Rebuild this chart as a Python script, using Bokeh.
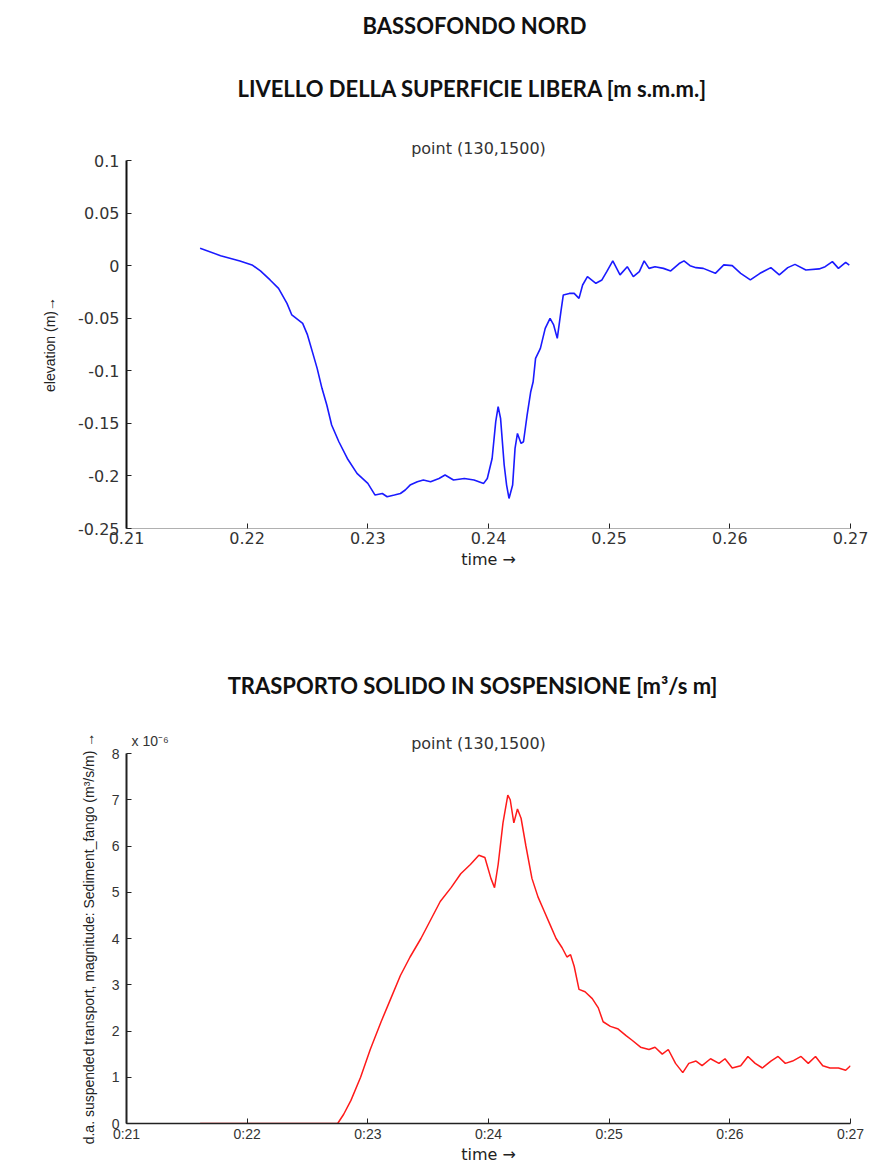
from bokeh.plotting import figure
from bokeh.models import Label, FixedTicker, Range1d
from bokeh.layouts import column
from bokeh.embed import file_html
from bokeh.resources import INLINE

# ---------------- texts ----------------
page_title = "BASSOFONDO NORD"
title_top = "LIVELLO DELLA SUPERFICIE LIBERA [m s.m.m.]"
title_bottom = "TRASPORTO SOLIDO IN SOSPENSIONE [m³/s m]"
subtitle = "point (130,1500)"
x_axis_title = "time →"
y_title_top = "elevation (m)→"
y_title_bottom = "d.a. suspended transport, magnitude: Sediment_fango (m³/s/m) →"
exponent_text = "x 10⁻⁶"

# ---------------- data: water level ----------------
elev_time = [0.2161, 0.2178, 0.2194, 0.2204, 0.2211, 0.2219, 0.2226, 0.2233, 0.2237,
             0.2246, 0.2250, 0.2254, 0.2258, 0.2262, 0.2266, 0.2270, 0.2276, 0.2283,
             0.2291, 0.2300, 0.2306, 0.2312, 0.2316, 0.2322, 0.2327, 0.2331, 0.2335,
             0.2341, 0.2346, 0.2352, 0.2359, 0.2364, 0.2371, 0.2380, 0.2388, 0.2396,
             0.2399, 0.2403, 0.2406, 0.2408, 0.2410, 0.2413, 0.2415, 0.2417, 0.2420,
             0.2422, 0.2424, 0.2427, 0.2429, 0.2432, 0.2435, 0.2437, 0.2439, 0.2443,
             0.2447, 0.2451, 0.2454, 0.2457, 0.2460, 0.2462, 0.2467, 0.2471, 0.2475,
             0.2478, 0.2482, 0.2489, 0.2494, 0.2498, 0.2503, 0.2509, 0.2515, 0.2520,
             0.2525, 0.2529, 0.2533, 0.2538, 0.2545, 0.2551, 0.2558, 0.2562, 0.2567,
             0.2572, 0.2578, 0.2588, 0.2595, 0.2602, 0.2609, 0.2617, 0.2625, 0.2634,
             0.2641, 0.2648, 0.2654, 0.2663, 0.2674, 0.2679, 0.2685, 0.2690, 0.2696,
             0.2699]
elev_m = [0.0165, 0.0095, 0.0045, 0.0007, -0.0050, -0.0136, -0.0216, -0.0359, -0.0469,
          -0.0549, -0.0659, -0.0818, -0.0977, -0.1167, -0.1325, -0.1516, -0.1675, -0.1834,
          -0.1976, -0.2071, -0.2182, -0.2167, -0.2198, -0.2182, -0.2167, -0.2134, -0.2087,
          -0.2055, -0.2039, -0.2055, -0.2024, -0.1991, -0.2039, -0.2024, -0.2039, -0.2071,
          -0.2024, -0.1834, -0.1484, -0.1342, -0.1453, -0.1896, -0.2087, -0.2214, -0.2087,
          -0.1738, -0.1596, -0.1691, -0.1675, -0.1421, -0.1199, -0.1104, -0.0882, -0.0787,
          -0.0597, -0.0501, -0.0564, -0.0692, -0.0438, -0.0279, -0.0264, -0.0264, -0.0311,
          -0.0184, -0.0105, -0.0168, -0.0136, -0.0057, 0.0045, -0.0088, -0.0010, -0.0105,
          -0.0057, 0.0045, -0.0026, -0.0010, -0.0026, -0.0050, 0.0020, 0.0045, 0.0000,
          -0.0019, -0.0026, -0.0073, 0.0007, 0.0000, -0.0073, -0.0136, -0.0073, -0.0019,
          -0.0088, -0.0019, 0.0012, -0.0041, -0.0031, -0.0010, 0.0038, -0.0026, 0.0031,
          0.0005]

# ---------------- data: suspended transport (x 1e-6 m3/s/m) ----------------
sed_time = [0.2161, 0.2275, 0.2280, 0.2286, 0.2294, 0.2302, 0.2311, 0.2319, 0.2327,
            0.2335, 0.2344, 0.2352, 0.2360, 0.2369, 0.2377, 0.2385, 0.2392, 0.2397,
            0.2402, 0.2405, 0.2408, 0.2412, 0.2416, 0.2418, 0.2421, 0.2424, 0.2427,
            0.2431, 0.2436, 0.2441, 0.2446, 0.2451, 0.2456, 0.2461, 0.2465, 0.2468,
            0.2471, 0.2475, 0.2480, 0.2486, 0.2491, 0.2495, 0.2501, 0.2507, 0.2514,
            0.2519, 0.2526, 0.2533, 0.2538, 0.2544, 0.2549, 0.2555, 0.2561, 0.2566,
            0.2572, 0.2577, 0.2584, 0.2591, 0.2596, 0.2602, 0.2609, 0.2615, 0.2621,
            0.2627, 0.2634, 0.2640, 0.2646, 0.2652, 0.2659, 0.2665, 0.2671, 0.2677,
            0.2683, 0.2690, 0.2696, 0.2700]
sed_e6 = [0.0, 0.0, 0.2, 0.5, 1.0, 1.6, 2.2, 2.7, 3.2,
          3.6, 4.0, 4.4, 4.8, 5.1, 5.4, 5.6, 5.8, 5.75,
          5.3, 5.1, 5.6, 6.5, 7.1, 7.0, 6.5, 6.8, 6.6,
          6.0, 5.3, 4.9, 4.6, 4.3, 4.0, 3.8, 3.6, 3.65,
          3.4, 2.9, 2.85, 2.7, 2.5, 2.2, 2.1, 2.05, 1.9,
          1.8, 1.65, 1.6, 1.65, 1.5, 1.6, 1.3, 1.1, 1.3,
          1.35, 1.25, 1.4, 1.3, 1.4, 1.2, 1.25, 1.45, 1.3,
          1.2, 1.35, 1.45, 1.3, 1.35, 1.45, 1.3, 1.45, 1.25,
          1.2, 1.2, 1.15, 1.25]

# ---------------- ticks ----------------
x_ticks = [0.21, 0.22, 0.23, 0.24, 0.25, 0.26, 0.27]
x_tick_labels_top = ["0.21", "0.22", "0.23", "0.24", "0.25", "0.26", "0.27"]
x_tick_labels_bottom = ["0:21", "0:22", "0:23", "0:24", "0:25", "0:26", "0:27"]
y_ticks_top = [0.1, 0.05, 0.0, -0.05, -0.1, -0.15, -0.2, -0.25]
y_tick_labels_top = ["0.1", "0.05", "0", "-0.05", "-0.1", "-0.15", "-0.2", "-0.25"]
y_ticks_bottom = [0, 1, 2, 3, 4, 5, 6, 7, 8]
y_tick_labels_bottom = ["0", "1", "2", "3", "4", "5", "6", "7", "8"]

HEAD_FONT = "Lato"
TICK_COLOR = "#333333"


def label_above(p, x, y, text, size, font="DejaVu Sans", style="normal",
                color="#222222", align="center"):
    # labels live in the side panel above the frame (not clipped there)
    p.add_layout(Label(x=x, y=y, x_units="screen", y_units="screen", text=text,
                       text_font=font, text_font_size=size, text_font_style=style,
                       text_color=color, text_align=align, text_baseline="middle"),
                 "above")


def style_common(p, label_standoff):
    p.background_fill_color = "white"
    p.border_fill_color = "white"
    p.outline_line_color = None
    p.xgrid.grid_line_color = None
    p.ygrid.grid_line_color = None
    for ax in (p.xaxis[0], p.yaxis[0]):
        ax.major_tick_in = 5
        ax.major_tick_out = 0
        ax.minor_tick_line_color = None
        ax.major_label_text_color = TICK_COLOR
    p.xaxis.axis_label = x_axis_title
    p.xaxis.axis_label_text_font = "DejaVu Sans"
    p.xaxis.axis_label_text_font_size = "16px"
    p.xaxis.axis_label_text_font_style = "normal"
    p.xaxis.axis_label_text_color = "#222222"
    p.xaxis.axis_label_standoff = label_standoff


# ================= top chart =================
p1 = figure(width=872, height=600, output_backend="svg", toolbar_location=None,
            title=None,
            x_range=Range1d(0.21, 0.27), y_range=Range1d(-0.25, 0.1),
            min_border_left=126, min_border_right=22, min_border_top=160,
            min_border_bottom=72)
style_common(p1, 3)
p1.line(elev_time, elev_m, line_color="#1a1aff", line_width=1.6)

p1.xaxis.ticker = FixedTicker(ticks=x_ticks)
p1.xaxis.major_label_overrides = dict(zip(x_ticks, x_tick_labels_top))
p1.yaxis.ticker = FixedTicker(ticks=y_ticks_top)
p1.yaxis.major_label_overrides = dict(zip(y_ticks_top, y_tick_labels_top))
p1.xaxis.major_label_text_font = "DejaVu Sans"
p1.xaxis.major_label_text_font_size = "16px"
p1.yaxis.major_label_text_font = "DejaVu Sans"
p1.yaxis.major_label_text_font_size = "16px"
p1.xaxis.major_label_standoff = 3
p1.yaxis.major_label_standoff = 7
p1.xaxis.axis_line_color = "#b0b0b0"
p1.xaxis.axis_line_width = 1
p1.xaxis.major_tick_line_color = "#222222"
p1.yaxis.axis_line_color = "#111111"
p1.yaxis.axis_line_width = 2
p1.yaxis.major_tick_line_color = "#222222"
p1.yaxis.axis_label = y_title_top
p1.yaxis.axis_label_text_font = "Liberation Sans"
p1.yaxis.axis_label_text_font_size = "14px"
p1.yaxis.axis_label_text_font_style = "normal"
p1.yaxis.axis_label_text_color = "#222222"
p1.yaxis.axis_label_standoff = 17

# side-panel rows, from the frame outward
label_above(p1, 352, 12, subtitle, "16px", "DejaVu Sans", "normal", "#333333")
label_above(p1, 346, 53, title_top, "22px", HEAD_FONT, "bold", "#111111")
label_above(p1, 348, 89, page_title, "22px", HEAD_FONT, "bold", "#111111")

# ================= bottom chart =================
p2 = figure(width=872, height=566, output_backend="svg", toolbar_location=None,
            title=None,
            x_range=Range1d(0.21, 0.27), y_range=Range1d(0, 8),
            min_border_left=126, min_border_right=22, min_border_top=153,
            min_border_bottom=43)
style_common(p2, 0)
p2.line(sed_time, sed_e6, line_color="#ff1a1a", line_width=1.5)

p2.xaxis.ticker = FixedTicker(ticks=x_ticks)
p2.xaxis.major_label_overrides = dict(zip(x_ticks, x_tick_labels_bottom))
p2.yaxis.ticker = FixedTicker(ticks=y_ticks_bottom)
p2.yaxis.major_label_overrides = dict(zip(y_ticks_bottom, y_tick_labels_bottom))
for ax in (p2.xaxis[0], p2.yaxis[0]):
    ax.major_label_text_font = "Liberation Sans"
    ax.major_label_text_font_size = "14px"
    ax.axis_line_color = "#222222"
    ax.major_tick_line_color = "#222222"
p2.xaxis.major_label_standoff = 2
p2.yaxis.major_label_standoff = 7
p2.xaxis.axis_line_width = 1.5
p2.yaxis.axis_line_width = 2
p2.yaxis.axis_label = y_title_bottom
p2.yaxis.axis_label_text_font = "Liberation Sans"
p2.yaxis.axis_label_text_font_size = "14px"
p2.yaxis.axis_label_text_font_style = "normal"
p2.yaxis.axis_label_text_color = "#222222"
p2.yaxis.axis_label_standoff = 12

label_above(p2, 5, 13, exponent_text, "14px", "Liberation Sans", "normal", "#333333",
            align="left")
label_above(p2, 352, -6, subtitle, "16px", "DejaVu Sans", "normal", "#333333")
label_above(p2, 346, 33, title_bottom, "22px", HEAD_FONT, "bold", "#111111")

layout = column(p1, p2, spacing=0)
open("out.html", "w").write(file_html(layout, INLINE))
